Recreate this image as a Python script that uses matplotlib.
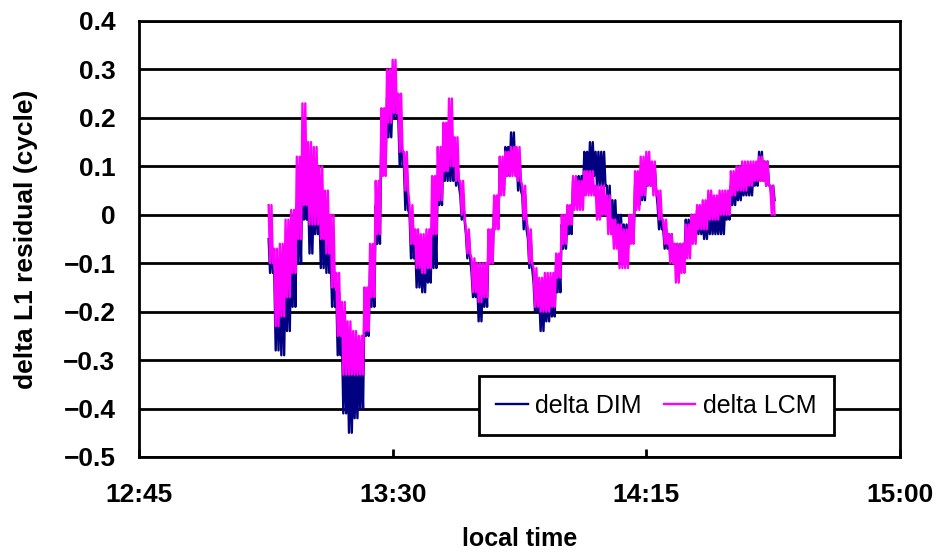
import numpy as np
import matplotlib
matplotlib.use('Agg')
import matplotlib.pyplot as plt
from matplotlib.ticker import FixedLocator, FixedFormatter

plt.rcParams['font.family'] = ['Liberation Sans', 'DejaVu Sans']

# ============ data ============
# minutes after midnight; per minute the high and low of the noisy trace
start_min = 788          # 13:08
end_min = 877            # 14:37

lcm_hi = [0.02, -0.07, -0.06, -0.01, 0.01, 0.12, 0.23, 0.15, 0.14, 0.10,
          0.05, 0.00, -0.12, -0.18, -0.22, -0.24, -0.25, -0.15, -0.06, 0.07,
          0.22, 0.30, 0.32, 0.25, 0.13, 0.02, -0.03, -0.04, -0.03, 0.08,
          0.14, 0.19, 0.24, 0.16, 0.07, -0.03, -0.09, -0.10, -0.10, -0.03,
          0.04, 0.12, 0.13, 0.14, 0.14, 0.06, -0.03, -0.11, -0.13, -0.12,
          -0.12, -0.08, 0.00, 0.02, 0.08, 0.07, 0.09, 0.09, 0.06, 0.06,
          0.04, -0.01, -0.02, -0.03, 0.00, 0.09, 0.12, 0.13, 0.11, 0.05,
          -0.01, -0.04, -0.06, -0.06, -0.02, 0.00, 0.02, 0.03, 0.05, 0.04,
          0.05, 0.05, 0.09, 0.10, 0.11, 0.11, 0.11, 0.12, 0.11, 0.06]
lcm_lo = [-0.10, -0.23, -0.21, -0.17, -0.12, -0.05, 0.02, -0.02, -0.02, -0.05,
          -0.08, -0.15, -0.25, -0.33, -0.33, -0.33, -0.33, -0.24, -0.17, -0.04,
          0.08, 0.19, 0.21, 0.13, 0.05, -0.06, -0.11, -0.12, -0.11, -0.04,
          0.03, 0.09, 0.10, 0.07, 0.00, -0.08, -0.16, -0.18, -0.17, -0.10,
          -0.03, 0.04, 0.08, 0.08, 0.07, -0.01, -0.10, -0.19, -0.20, -0.20,
          -0.19, -0.13, -0.06, -0.02, 0.01, 0.01, 0.04, 0.04, -0.01, 0.00,
          -0.04, -0.07, -0.11, -0.11, -0.06, 0.01, 0.04, 0.06, 0.04, -0.01,
          -0.06, -0.10, -0.14, -0.12, -0.09, -0.06, -0.03, -0.03, -0.01, -0.01,
          0.00, 0.00, 0.04, 0.05, 0.05, 0.06, 0.07, 0.07, 0.06, 0.00]
dim_hi = [-0.05, -0.12, -0.12, -0.10, -0.06, 0.02, 0.12, 0.05, 0.04, 0.02,
          -0.01, -0.08, -0.16, -0.25, -0.30, -0.32, -0.30, -0.18, -0.10, 0.02,
          0.18, 0.24, 0.25, 0.20, 0.10, 0.00, -0.06, -0.08, -0.07, 0.00,
          0.08, 0.14, 0.14, 0.11, 0.04, -0.04, -0.12, -0.14, -0.13, -0.06,
          0.02, 0.10, 0.14, 0.17, 0.12, 0.04, -0.05, -0.14, -0.17, -0.16,
          -0.15, -0.10, -0.02, 0.00, 0.07, 0.08, 0.13, 0.15, 0.13, 0.13,
          0.06, 0.03, 0.00, -0.02, -0.01, 0.06, 0.09, 0.10, 0.10, 0.02,
          -0.03, -0.04, -0.06, -0.06, -0.01, 0.00, 0.01, 0.00, 0.01, 0.00,
          0.01, 0.02, 0.06, 0.06, 0.07, 0.08, 0.09, 0.13, 0.11, 0.06]
dim_lo = [-0.12, -0.28, -0.29, -0.24, -0.19, -0.10, -0.01, -0.08, -0.04, -0.11,
          -0.12, -0.19, -0.29, -0.41, -0.45, -0.42, -0.40, -0.25, -0.19, -0.06,
          0.10, 0.16, 0.20, 0.10, 0.01, -0.09, -0.15, -0.16, -0.14, -0.11,
          0.02, 0.07, 0.07, 0.06, -0.01, -0.09, -0.17, -0.22, -0.19, -0.09,
          -0.01, 0.05, 0.08, 0.09, 0.05, -0.03, -0.11, -0.20, -0.24, -0.22,
          -0.21, -0.16, -0.07, -0.04, 0.02, 0.04, 0.07, 0.08, 0.06, 0.06,
          -0.02, -0.04, -0.07, -0.07, -0.05, 0.02, 0.03, 0.06, 0.05, -0.03,
          -0.07, -0.09, -0.10, -0.09, -0.06, -0.05, -0.04, -0.05, -0.04, -0.04,
          -0.04, -0.01, 0.02, 0.03, 0.04, 0.04, 0.06, 0.07, 0.06, 0.03]

xtick_pos = [765, 810, 855, 900]
xtick_labels = ['12:45', '13:30', '14:15', '15:00']
ytick_pos = [-0.5, -0.4, -0.3, -0.2, -0.1, 0.0, 0.1, 0.2, 0.3, 0.4]
ytick_labels = ['\u22120.5', '\u22120.4', '\u22120.3', '\u22120.2', '\u22120.1',
                '0', '0.1', '0.2', '0.3', '0.4']


def noisy_trace(hi, lo):
    """swing between the read high and low twice every minute"""
    minutes = np.arange(start_min, end_min + 1)
    t = np.column_stack([minutes, minutes + 0.25,
                         minutes + 0.5, minutes + 0.75]).ravel()
    v = np.column_stack([hi, lo, hi, lo]).ravel()
    return t, v


t_dim, v_dim = noisy_trace(dim_hi, dim_lo)
t_lcm, v_lcm = noisy_trace(lcm_hi, lcm_lo)

fig = plt.figure(figsize=(9.43, 5.54), dpi=100)
ax = fig.add_axes([139 / 943, 1 - 457 / 554, 761 / 943, 436 / 554])

ax.plot(t_dim, v_dim, color='#000080', linewidth=1.7, label='delta DIM')
ax.plot(t_lcm, v_lcm, color='#FF00FF', linewidth=1.7, label='delta LCM')

ax.set_xlim(765, 900)
ax.set_ylim(-0.5, 0.4)
ax.xaxis.set_major_locator(FixedLocator(xtick_pos))
ax.xaxis.set_major_formatter(FixedFormatter(xtick_labels))
ax.yaxis.set_major_locator(FixedLocator(ytick_pos))
ax.yaxis.set_major_formatter(FixedFormatter(ytick_labels))

ax.yaxis.grid(True, color='black', linewidth=2.0)
ax.set_axisbelow(True)
for s in ax.spines.values():
    s.set_linewidth(2.0)
    s.set_color('black')

ax.tick_params(axis='x', direction='in', length=6, width=2, pad=19,
               labelsize=19)
ax.tick_params(axis='y', length=0, pad=17, labelsize=19)
for lab in ax.get_xticklabels() + ax.get_yticklabels():
    lab.set_fontweight('bold')

ax.set_xlabel('local time', fontsize=18, fontweight='bold')
ax.set_ylabel('delta L1 residual (cycle)', fontsize=19, fontweight='bold')
ax.xaxis.set_label_coords(0.5, (457 - 527) / 436)
ax.yaxis.set_label_coords((38 - 139) / 761, 0.5)

leg = ax.legend(loc='center', bbox_to_anchor=(0.68, 0.117), ncol=2,
                fontsize=18, frameon=True, fancybox=False, framealpha=1,
                edgecolor='black', handlelength=1.25, handletextpad=0.3,
                columnspacing=0.9, borderpad=0.7)
leg.get_frame().set_linewidth(2.0)
leg.set_zorder(5)

plt.savefig('out.png', dpi=100)
plt.close()
